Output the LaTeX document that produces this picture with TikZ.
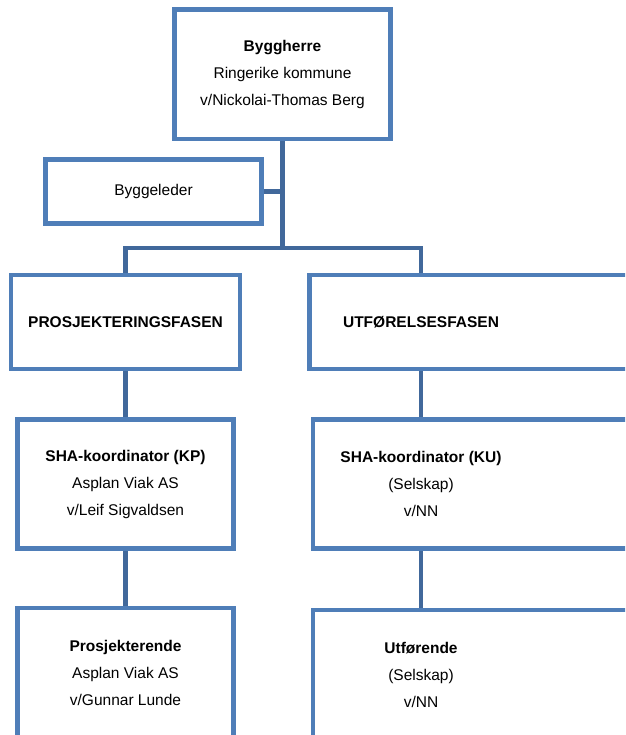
\documentclass[tikz,border=0pt]{standalone}
\usepackage{fontspec}
\setmainfont{Liberation Sans}
\definecolor{boxblue}{HTML}{4F7EB8}
\definecolor{linkblue}{HTML}{41689B}
\pgfdeclarelayer{bg}
\pgfsetlayers{bg,main}
\begin{document}
\begin{tikzpicture}[x=1pt,y=-1pt,
  box/.style={draw=boxblue,line width=4.5pt,rectangle,inner sep=0pt,outer sep=0pt,anchor=north west,
    align=center,font=\fontsize{15.5}{27}\selectfont},
  lbl/.style={align=center,font=\fontsize{15.5}{27}\selectfont,inner sep=0pt},
  link/.style={draw=linkblue,line width=4.5pt}]
\useasboundingbox (0,0) rectangle (625,735);
\clip (0,0) rectangle (625,735);
% boxes
\node[box,minimum width=216pt,minimum height=129.5pt] (top) at (174.5,9.5)
  {\textbf{Byggherre}\\Ringerike kommune\\v/Nickolai-Thomas Berg};
\node[box,minimum width=216pt,minimum height=64pt] (bygg) at (45.5,159.5) {Byggeleder};
\node[box,minimum width=229pt,minimum height=94pt] (prosj) at (11,275) {\textbf{PROSJEKTERINGSFASEN}};
\node[box,minimum width=400pt,minimum height=94pt] (utf) at (309.5,275) {};
\node[box,minimum width=216pt,minimum height=129pt] (kp) at (17.5,419.5)
  {\textbf{SHA-koordinator (KP)}\\Asplan Viak AS\\v/Leif Sigvaldsen};
\node[box,minimum width=400pt,minimum height=129pt] (ku) at (313,419.5) {};
\node[box,minimum width=216pt,minimum height=200pt] (pro) at (17.5,608) {};
\node[box,minimum width=400pt,minimum height=200pt] (ut) at (313,610) {};
% labels
\node[lbl] (utfT) at (421,322) {\textbf{UTFØRELSESFASEN}};
\node[lbl] (kuT) at (421,484) {\textbf{SHA-koordinator (KU)}\\(Selskap)\\v/NN};
\node[lbl] (proT) at (125.5,672.5) {\textbf{Prosjekterende}\\Asplan Viak AS\\v/Gunnar Lunde};
\node[lbl] (utT) at (421,675) {\textbf{Utførende}\\(Selskap)\\v/NN};
% connectors
\coordinate (barmid) at (282.5,248);
\coordinate (barR) at (421,248);
\begin{pgfonlayer}{bg}
\fill[white] (0,0) rectangle (625,735);
\draw[link] (top.south) -- (top.south |- barmid);
\draw[link] (bygg.east) -- (bygg.east -| barmid);
\draw[link] (prosj.north) |- (barR) -- (barR |- utf.north);
\draw[link] (prosj.south) -- (kp.north);
\draw[link] (kp.south) -- (pro.north);
\draw[link] (utf.south -| barR) -- (ku.north -| barR);
\draw[link] (ku.south -| barR) -- (ut.north -| barR);
\end{pgfonlayer}
\end{tikzpicture}
\end{document}
